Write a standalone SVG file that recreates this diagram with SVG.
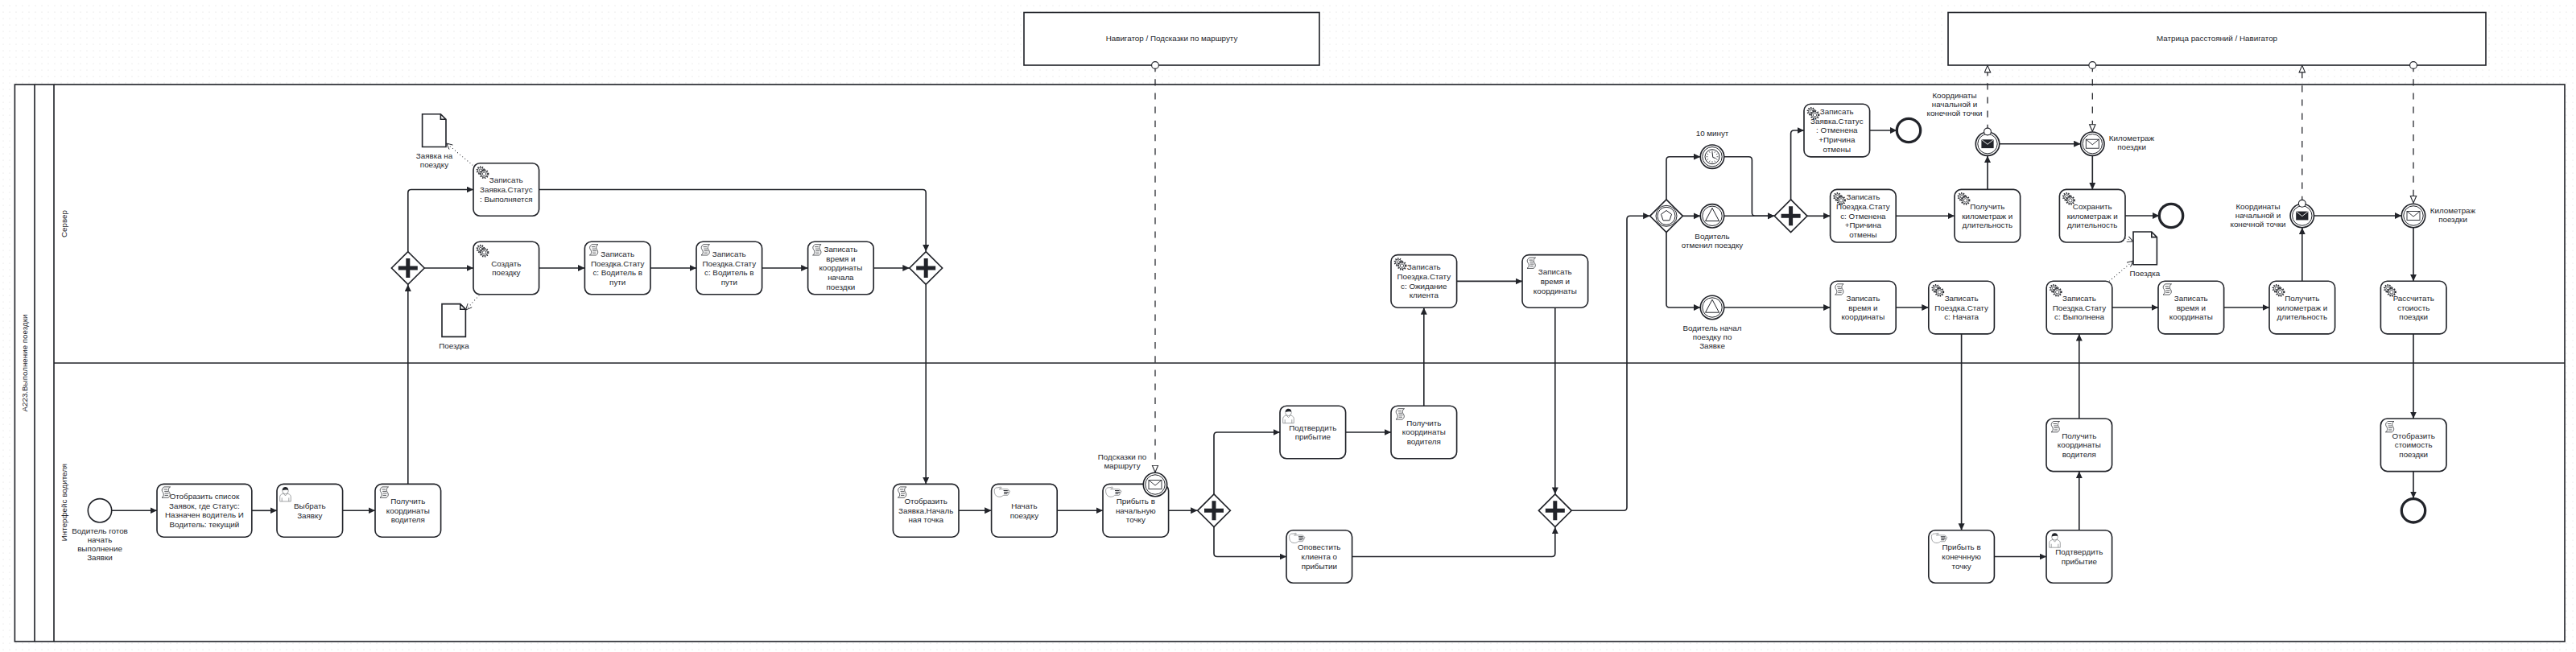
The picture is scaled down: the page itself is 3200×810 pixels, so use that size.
<svg xmlns="http://www.w3.org/2000/svg" xmlns:xlink="http://www.w3.org/1999/xlink" width="3200" height="810" viewBox="0 0 3200 810">
<style>
.t{font-family:"Liberation Sans",Arial,sans-serif;font-size:9.8px;fill:#22242a;text-anchor:middle}
.task{fill:#fff;stroke:#22242a;stroke-width:1.63}
.ln{fill:none;stroke:#22242a;stroke-width:1.63}
.pl{fill:#fff;stroke:#22242a;stroke-width:1.63}
.th{fill:#fff;stroke:#22242a;stroke-width:1}
.end{fill:#fff;stroke:#22242a;stroke-width:3.3}
.flow{fill:none;stroke:#22242a;stroke-width:1.63;marker-end:url(#arr)}
.msg{fill:none;stroke:#22242a;stroke-width:1.25;stroke-dasharray:8.2 9}
.msga{marker-end:url(#open)}
.asc{fill:none;stroke:#22242a;stroke-width:1.1;stroke-dasharray:0 4;stroke-linecap:round;marker-end:url(#openv)}
.dot{fill:#fff;stroke:#22242a;stroke-width:1.1}
.ic{fill:none;stroke:#22242a;stroke-width:.75}
.ig{fill:none;stroke:#7a7c80;stroke-width:.7}
</style>
<defs>
<pattern id="grid" width="8" height="8" patternUnits="userSpaceOnUse"><circle cx="4" cy="7" r=".6" fill="#d8d8d8"/></pattern>
<marker id="arr" markerUnits="userSpaceOnUse" markerWidth="10" markerHeight="10" refX="8.5" refY="4" orient="auto"><path d="M0,0L8.5,4L0,8Z" fill="#22242a"/></marker>
<marker id="open" markerUnits="userSpaceOnUse" markerWidth="12" markerHeight="12" refX="9.5" refY="4.5" orient="auto"><path d="M.6,.8L9.2,4.5L.6,8.2Z" fill="#fff" stroke="#22242a" stroke-width="1.1"/></marker>
<marker id="openv" markerUnits="userSpaceOnUse" markerWidth="12" markerHeight="12" refX="8" refY="4" orient="auto"><path d="M.5,.5L8,4L.5,7.5" fill="none" stroke="#22242a" stroke-width=".9"/></marker>
<g id="gear">
<g class="ic"><circle cx="6" cy="6" r="4.3" stroke-width="2.2" stroke-dasharray="1.2 1.5"/><circle cx="6" cy="6" r="3.6" fill="#fff"/><circle cx="6" cy="6" r="1.8"/></g>
<g class="ic"><circle cx="10.5" cy="10.5" r="4.8" stroke-width="2.2" stroke-dasharray="1.3 1.5"/><circle cx="10.5" cy="10.5" r="4" fill="#fff"/><circle cx="10.5" cy="10.5" r="2.2"/></g>
</g>
<g id="script" class="ic"><path d="M4,.5H11.5C8.8,2.2 8.8,5 10.2,7C11.8,9.2 11.8,12 9,13.8H1C3.8,12 3.8,9.2 2.2,7C.6,5 .8,2.2 4,.5Z"/><path d="M3.5,3.5H8M4.2,6H9M4.6,8.5H9.6M4.6,11H9"/></g>
<g id="user"><path class="ig" d="M.7,18.5V12.5C.7,10 4,9.2 5,8.5L7.5,11.5L10,8.5C11,9.2 14.3,10 14.3,12.5V18.5ZM3.2,18.5V14M11.8,18.5V14"/><circle class="ig" cx="7.5" cy="5.5" r="3.8"/><path d="M3.8,4.8C3.6,1.4 6,.5 7.6,.5C9.5,.5 11.3,1.6 11.2,4.6C9.5,4 6,4 3.8,4.8Z" fill="#22242a"/></g>
<g id="hand"><path class="ig" d="M.6,4.6C.6,2 3,1 5,1.4L8.5,.7C9.5,.5 9.6,2 8.6,2.3L6.6,3.2H16.5C18.5,3.2 18.5,5 16.5,5.1H19C20.2,5.1 20.2,7 19,7H18.2C19.4,7.2 19.4,9 18.2,9H17C18,9.2 18,11 16.8,11H11.5C9.5,13.4 5,13.2 3,11.6C1,10 .5,7 .6,4.6Z"/><path d="M12,5.1H17M12.5,7H18M12.5,9H16.5" fill="none" stroke="#22242a" stroke-width="1"/></g>
<path id="plus" d="M-2.5,-12H2.5V-2.5H12V2.5H2.5V12H-2.5V2.5H-12V-2.5H-2.5Z" fill="#22242a"/>
<path id="dia" d="M0,-20.4L20.4,0L0,20.4L-20.4,0Z" class="pl"/>
<g id="env-w"><rect x="-8" y="-5.5" width="16" height="11" fill="#fff" stroke="#22242a" stroke-width=".9"/><path d="M-8,-5.5L0,1L8,-5.5" fill="none" stroke="#22242a" stroke-width=".9"/></g>
<g id="env-b"><rect x="-7.6" y="-5.4" width="15.2" height="10.8" fill="#22242a"/><path d="M-7.6,-5.4L0,.6L7.6,-5.4" fill="none" stroke="#fff" stroke-width=".9"/></g>
<g id="ev2"><circle r="14.7" class="pl"/><circle r="12.2" class="th"/></g>
<path id="doc" d="M0,0H22.8L29.4,6.6V40.8H0Z M22.8,0V6.6H29.4" fill="#fff" stroke="#22242a" stroke-width="1.63"/>
</defs>
<rect width="3200" height="810" fill="#fff"/>
<rect width="3200" height="810" fill="url(#grid)"/>

<g id="pool">
<rect x="18.4" y="105" width="3167.6" height="692" class="pl"/>
<path class="ln" d="M43,105V797M67,105V797M67,451H3186"/>
<text class="t" transform="translate(33.6,451) rotate(-90)">А223.Выполнение поездки</text>
<text class="t" transform="translate(82.5,278) rotate(-90)">Сервер</text>
<text class="t" transform="translate(82.5,624) rotate(-90)">Интерфейс водителя</text>
</g>

<g id="ext-nav"><rect x="1272" y="15.5" width="367" height="65.5" class="pl"/><text class="t" x="1455.5" y="51.4">Навигатор / Подсказки по маршруту</text></g>
<g id="ext-matrix"><rect x="2420" y="15.5" width="668" height="65.5" class="pl"/><text class="t" x="2754" y="51.4">Матрица расстояний / Навигатор</text></g>

<g id="connectors">
<path class="flow" d="M139,634.3H195"/>
<path class="flow" d="M312.8,634.3H344"/>
<path class="flow" d="M425.6,634.3H466"/>
<path class="flow" d="M506.8,601.4V353.4"/>
<path class="flow" d="M506.8,312.6V239.3Q506.8,235.5 510.8,235.5H588"/>
<path class="flow" d="M527.2,333H588"/>
<path class="flow" d="M669.6,333H726.4"/>
<path class="flow" d="M808,333H865"/>
<path class="flow" d="M946.6,333H1003.6"/>
<path class="flow" d="M1085.2,333H1129.8"/>
<path class="flow" d="M669.6,235.5H1146.2Q1150.2,235.5 1150.2,239.5V312.6"/>
<path class="flow" d="M1150.2,353.4V601.4"/>
<path class="flow" d="M1191,634.3H1231.6"/>
<path class="flow" d="M1313.2,634.3H1370"/>
<path class="flow" d="M1451.6,634.3H1487.6"/>
<path class="flow" d="M1508,613.9V541Q1508,537 1512,537H1590"/>
<path class="flow" d="M1508,654.7V687.5Q1508,691.5 1512,691.5H1598"/>
<path class="flow" d="M1671.6,537H1728"/>
<path class="flow" d="M1768.8,504.2V382.2"/>
<path class="flow" d="M1809.6,349.4H1891"/>
<path class="flow" d="M1931.8,382.2V613.9"/>
<path class="flow" d="M1679.6,691.5H1927.8Q1931.8,691.5 1931.8,687.5V654.7"/>
<path class="flow" d="M1952.2,634.3H2017Q2021,634.3 2021,630.3V272.3Q2021,268.3 2025,268.3H2049.6"/>
<path class="flow" d="M2070,247.9V198.7Q2070,194.7 2074,194.7H2112.3"/>
<path class="flow" d="M2090.4,268.3H2112.3"/>
<path class="flow" d="M2070,288.7V378Q2070,382 2074,382H2112.3"/>
<path class="flow" d="M2141.7,194.7H2172.4Q2176.4,194.7 2176.4,198.7V264.3Q2176.4,268.3 2180.4,268.3H2204.2"/>
<path class="flow" d="M2141.7,268.3H2204.2"/>
<path class="flow" d="M2224.6,247.9V166Q2224.6,162 2228.6,162H2241"/>
<path class="flow" d="M2245,268.3H2273.6"/>
<path class="flow" d="M2322.6,162H2356.3"/>
<path class="flow" d="M2355.2,268.3H2428"/>
<path class="flow" d="M2469,235.4V193.4"/>
<path class="flow" d="M2483.7,178.7H2584.6"/>
<path class="flow" d="M2599.3,193.2V235.4"/>
<path class="flow" d="M2640,268H2682.3"/>
<path class="flow" d="M2141.7,382H2273.6"/>
<path class="flow" d="M2355.2,382H2395.8"/>
<path class="flow" d="M2436.6,415V658.7"/>
<path class="flow" d="M2477.4,691.5H2542"/>
<path class="flow" d="M2582.8,658.7V585.6"/>
<path class="flow" d="M2582.8,520V415"/>
<path class="flow" d="M2623.8,382H2681"/>
<path class="flow" d="M2762.6,382H2819"/>
<path class="flow" d="M2859.8,349.3V282.7"/>
<path class="flow" d="M2874.7,268H2983.3"/>
<path class="flow" d="M2998,282.7V349.3"/>
<path class="flow" d="M2998,415V520"/>
<path class="flow" d="M2998,585.6V619"/>
<path class="msg msga" d="M1435,81V587"/>
<path class="msg msga" d="M2469,163V81"/>
<path class="msg msga" d="M2599.3,81V163.6"/>
<path class="msg msga" d="M2859.8,252V81"/>
<path class="msg msga" d="M2998,81V252.4"/>
<path class="asc" d="M587,205L554.5,178"/>
<path class="asc" d="M595,367L578.6,385"/>
<path class="asc" d="M2640.4,296L2650,300"/>
<path class="asc" d="M2620.5,349L2650,324"/>
<circle class="dot" cx="1435" cy="81" r="4.4"/>
<circle class="dot" cx="2599.3" cy="81" r="4.4"/>
<circle class="dot" cx="2998" cy="81" r="4.4"/>
</g>

<g id="start"><circle cx="124" cy="634.3" r="14.7" class="pl"/><text class="t" y="663.4"><tspan x="124">Водитель готов</tspan><tspan x="124" dy="10.8">начать</tspan><tspan x="124" dy="10.8">выполнение</tspan><tspan x="124" dy="10.8">Заявки</tspan></text></g>

<g id="t-list" transform="translate(195,601.4)"><rect width="117.8" height="65.8" rx="8.2" class="task"/><use href="#script" x="5" y="3"/><text class="t" y="18.6"><tspan x="58.9">Отобразить список</tspan><tspan x="58.9" dy="11.75">Заявок, где Статус:</tspan><tspan x="58.9" dy="11.75">Назначен водитель И</tspan><tspan x="58.9" dy="11.75">Водитель: текущий</tspan></text></g>
<g id="t-select" transform="translate(344,601.4)"><rect width="81.6" height="65.8" rx="8.2" class="task"/><use href="#user" x="3" y="3"/><text class="t" y="30.4"><tspan x="40.8">Выбрать</tspan><tspan x="40.8" dy="11.75">Заявку</tspan></text></g>
<g id="t-coords1" transform="translate(466,601.4)"><rect width="81.6" height="65.8" rx="8.2" class="task"/><use href="#script" x="5" y="3"/><text class="t" y="24.5"><tspan x="40.8">Получить</tspan><tspan x="40.8" dy="11.75">координаты</tspan><tspan x="40.8" dy="11.75">водителя</tspan></text></g>

<g id="gw1" transform="translate(506.8,333)"><use href="#dia"/><use href="#plus"/></g>
<g id="t-zayavka" transform="translate(588,202.7)"><rect width="81.6" height="65.6" rx="8.2" class="task"/><use href="#gear" x="3" y="3"/><text class="t" y="24.5"><tspan x="40.8">Записать</tspan><tspan x="40.8" dy="11.75">Заявка.Статус</tspan><tspan x="40.8" dy="11.75">: Выполняется</tspan></text></g>
<g id="t-create" transform="translate(588,300.2)"><rect width="81.6" height="65.6" rx="8.2" class="task"/><use href="#gear" x="3" y="3"/><text class="t" y="30.4"><tspan x="40.8">Создать</tspan><tspan x="40.8" dy="11.75">поездку</tspan></text></g>
<g id="t-st1" transform="translate(726.4,300.2)"><rect width="81.6" height="65.6" rx="8.2" class="task"/><use href="#script" x="5" y="3"/><text class="t" y="18.6"><tspan x="40.8">Записать</tspan><tspan x="40.8" dy="11.75">Поездка.Стату</tspan><tspan x="40.8" dy="11.75">с: Водитель в</tspan><tspan x="40.8" dy="11.75">пути</tspan></text></g>
<g id="t-st2" transform="translate(865,300.2)"><rect width="81.6" height="65.6" rx="8.2" class="task"/><use href="#script" x="5" y="3"/><text class="t" y="18.6"><tspan x="40.8">Записать</tspan><tspan x="40.8" dy="11.75">Поездка.Стату</tspan><tspan x="40.8" dy="11.75">с: Водитель в</tspan><tspan x="40.8" dy="11.75">пути</tspan></text></g>
<g id="t-time1" transform="translate(1003.6,300.2)"><rect width="81.6" height="65.6" rx="8.2" class="task"/><use href="#script" x="5" y="3"/><text class="t" y="12.7"><tspan x="40.8">Записать</tspan><tspan x="40.8" dy="11.75">время и</tspan><tspan x="40.8" dy="11.75">координаты</tspan><tspan x="40.8" dy="11.75">начала</tspan><tspan x="40.8" dy="11.75">поездки</tspan></text></g>
<g id="gw2" transform="translate(1150.2,333)"><use href="#dia"/><use href="#plus"/></g>

<g id="d-zayavka"><use href="#doc" x="524.6" y="141.7"/><text class="t" y="196.5"><tspan x="539.5">Заявка на</tspan><tspan x="539.5" dy="11">поездку</tspan></text></g>
<g id="d-trip"><use href="#doc" x="549" y="377.6"/><text class="t" x="564" y="433.4">Поездка</text></g>

<g id="t-show" transform="translate(1109.4,601.4)"><rect width="81.6" height="65.8" rx="8.2" class="task"/><use href="#script" x="5" y="3"/><text class="t" y="24.5"><tspan x="40.8">Отобразить</tspan><tspan x="40.8" dy="11.75">Заявка.Началь</tspan><tspan x="40.8" dy="11.75">ная точка</tspan></text></g>
<g id="t-start" transform="translate(1231.6,601.4)"><rect width="81.6" height="65.8" rx="8.2" class="task"/><use href="#hand" x="3" y="3"/><text class="t" y="30.4"><tspan x="40.8">Начать</tspan><tspan x="40.8" dy="11.75">поездку</tspan></text></g>
<g id="t-arrive" transform="translate(1370,601.4)"><rect width="81.6" height="65.8" rx="8.2" class="task"/><use href="#hand" x="3" y="3"/><text class="t" y="24.5"><tspan x="40.8">Прибыть в</tspan><tspan x="40.8" dy="11.75">начальную</tspan><tspan x="40.8" dy="11.75">точку</tspan></text></g>
<g id="ev-hints"><use href="#ev2" x="1435" y="602"/><use href="#env-w" x="1435" y="602"/><text class="t" y="571.4"><tspan x="1394">Подсказки по</tspan><tspan x="1394" dy="11">маршруту</tspan></text></g>
<g id="gw3" transform="translate(1508,634.3)"><use href="#dia"/><use href="#plus"/></g>

<g id="t-confirm1" transform="translate(1590,504.2)"><rect width="81.6" height="65.6" rx="8.2" class="task"/><use href="#user" x="3" y="3"/><text class="t" y="30.4"><tspan x="40.8">Подтвердить</tspan><tspan x="40.8" dy="11.75">прибытие</tspan></text></g>
<g id="t-coords2" transform="translate(1728,504.2)"><rect width="81.6" height="65.6" rx="8.2" class="task"/><use href="#script" x="5" y="3"/><text class="t" y="24.5"><tspan x="40.8">Получить</tspan><tspan x="40.8" dy="11.75">координаты</tspan><tspan x="40.8" dy="11.75">водителя</tspan></text></g>
<g id="t-notify" transform="translate(1598,658.7)"><rect width="81.6" height="65.6" rx="8.2" class="task"/><use href="#hand" x="3" y="3"/><text class="t" y="24.5"><tspan x="40.8">Оповестить</tspan><tspan x="40.8" dy="11.75">клиента о</tspan><tspan x="40.8" dy="11.75">прибытии</tspan></text></g>
<g id="t-wait" transform="translate(1728,316.6)"><rect width="81.6" height="65.6" rx="8.2" class="task"/><use href="#gear" x="3" y="3"/><text class="t" y="18.6"><tspan x="40.8">Записать</tspan><tspan x="40.8" dy="11.75">Поездка.Стату</tspan><tspan x="40.8" dy="11.75">с: Ожидание</tspan><tspan x="40.8" dy="11.75">клиента</tspan></text></g>
<g id="t-time2" transform="translate(1891,316.6)"><rect width="81.6" height="65.6" rx="8.2" class="task"/><use href="#script" x="5" y="3"/><text class="t" y="24.5"><tspan x="40.8">Записать</tspan><tspan x="40.8" dy="11.75">время и</tspan><tspan x="40.8" dy="11.75">координаты</tspan></text></g>
<g id="gw4" transform="translate(1931.8,634.3)"><use href="#dia"/><use href="#plus"/></g>

<g id="gw-event" transform="translate(2070,268.3)"><use href="#dia"/><circle r="13" class="th"/><circle r="11" class="th"/><path d="M0,-6.8L6.5,-2.1L4,5.5H-4L-6.5,-2.1Z" fill="#fff" stroke="#22242a" stroke-width="1"/></g>
<g id="ev-timer"><use href="#ev2" x="2127" y="194.7"/><g transform="translate(2127,194.7)"><circle r="9" class="th"/><path d="M0,-7.5V-5.5M0,7.5V5.5M-7.5,0H-5.5M7.5,0H5.5M-3.7,-6.5L-2.8,-4.9M3.7,-6.5L2.8,-4.9M-3.7,6.5L-2.8,4.9M3.7,6.5L2.8,4.9M-6.5,-3.7L-4.9,-2.8M6.5,-3.7L4.9,-2.8M-6.5,3.7L-4.9,2.8M6.5,3.7L4.9,2.8" stroke="#22242a" stroke-width=".7" fill="none"/><path d="M0,-5.5L.8,0.8L4.5,2" fill="none" stroke="#22242a" stroke-width="1"/></g><text class="t" x="2127" y="169.4">10 минут</text></g>
<g id="ev-cancel"><use href="#ev2" x="2127" y="268.3"/><path d="M2127,258.5L2135.5,274.5H2118.5Z" fill="#fff" stroke="#22242a" stroke-width="1"/><text class="t" y="297.4"><tspan x="2127">Водитель</tspan><tspan x="2127" dy="10.8">отменил поездку</tspan></text></g>
<g id="ev-begin"><use href="#ev2" x="2127" y="382"/><path d="M2127,372.2L2135.5,388.2H2118.5Z" fill="#fff" stroke="#22242a" stroke-width="1"/><text class="t" y="411.4"><tspan x="2127">Водитель начал</tspan><tspan x="2127" dy="10.8">поездку по</tspan><tspan x="2127" dy="10.8">Заявке</tspan></text></g>
<g id="gw5" transform="translate(2224.6,268.3)"><use href="#dia"/><use href="#plus"/></g>
<g id="t-z-cancel" transform="translate(2241,129.3)"><rect width="81.6" height="65.6" rx="8.2" class="task"/><use href="#gear" x="3" y="3"/><text class="t" y="12.7"><tspan x="40.8">Записать</tspan><tspan x="40.8" dy="11.75">Заявка.Статус</tspan><tspan x="40.8" dy="11.75">: Отменена</tspan><tspan x="40.8" dy="11.75">+Причина</tspan><tspan x="40.8" dy="11.75">отмены</tspan></text></g>
<g id="end1"><circle cx="2371" cy="162" r="14.7" class="end"/></g>
<g id="t-p-cancel" transform="translate(2273.6,235.4)"><rect width="81.6" height="65.6" rx="8.2" class="task"/><use href="#gear" x="3" y="3"/><text class="t" y="12.7"><tspan x="40.8">Записать</tspan><tspan x="40.8" dy="11.75">Поездка.Стату</tspan><tspan x="40.8" dy="11.75">с: Отменена</tspan><tspan x="40.8" dy="11.75">+Причина</tspan><tspan x="40.8" dy="11.75">отмены</tspan></text></g>
<g id="t-km1" transform="translate(2428,235.4)"><rect width="81.6" height="65.6" rx="8.2" class="task"/><use href="#gear" x="3" y="3"/><text class="t" y="24.5"><tspan x="40.8">Получить</tspan><tspan x="40.8" dy="11.75">километраж и</tspan><tspan x="40.8" dy="11.75">длительность</tspan></text></g>
<g id="ev-send1"><use href="#ev2" x="2469" y="178.7"/><use href="#env-b" x="2469" y="178.7"/><circle class="dot" cx="2469" cy="163.5" r="4.4"/><text class="t" y="122.4"><tspan x="2428">Координаты</tspan><tspan x="2428" dy="10.8">начальной и</tspan><tspan x="2428" dy="10.8">конечной точки</tspan></text></g>
<g id="ev-recv1"><use href="#ev2" x="2599.3" y="178.7"/><use href="#env-w" x="2599.3" y="178.7"/><text class="t" y="175.4"><tspan x="2648">Километраж</tspan><tspan x="2648" dy="11">поездки</tspan></text></g>
<g id="t-save" transform="translate(2558.4,235.4)"><rect width="81.6" height="65.6" rx="8.2" class="task"/><use href="#gear" x="3" y="3"/><text class="t" y="24.5"><tspan x="40.8">Сохранить</tspan><tspan x="40.8" dy="11.75">километраж и</tspan><tspan x="40.8" dy="11.75">длительность</tspan></text></g>
<g id="end2"><circle cx="2697" cy="268" r="14.7" class="end"/></g>
<g id="d-trip2"><use href="#doc" x="2650" y="288"/><text class="t" x="2664.4" y="343.4">Поездка</text></g>

<g id="t-time3" transform="translate(2273.6,349.3)"><rect width="81.6" height="65.6" rx="8.2" class="task"/><use href="#script" x="5" y="3"/><text class="t" y="24.5"><tspan x="40.8">Записать</tspan><tspan x="40.8" dy="11.75">время и</tspan><tspan x="40.8" dy="11.75">координаты</tspan></text></g>
<g id="t-started" transform="translate(2395.8,349.3)"><rect width="81.6" height="65.6" rx="8.2" class="task"/><use href="#gear" x="3" y="3"/><text class="t" y="24.5"><tspan x="40.8">Записать</tspan><tspan x="40.8" dy="11.75">Поездка.Стату</tspan><tspan x="40.8" dy="11.75">с: Начата</tspan></text></g>
<g id="t-done" transform="translate(2542.2,349.3)"><rect width="81.6" height="65.6" rx="8.2" class="task"/><use href="#gear" x="3" y="3"/><text class="t" y="24.5"><tspan x="40.8">Записать</tspan><tspan x="40.8" dy="11.75">Поездка.Стату</tspan><tspan x="40.8" dy="11.75">с: Выполнена</tspan></text></g>
<g id="t-time4" transform="translate(2681,349.3)"><rect width="81.6" height="65.6" rx="8.2" class="task"/><use href="#script" x="5" y="3"/><text class="t" y="24.5"><tspan x="40.8">Записать</tspan><tspan x="40.8" dy="11.75">время и</tspan><tspan x="40.8" dy="11.75">координаты</tspan></text></g>
<g id="t-km2" transform="translate(2819,349.3)"><rect width="81.6" height="65.6" rx="8.2" class="task"/><use href="#gear" x="3" y="3"/><text class="t" y="24.5"><tspan x="40.8">Получить</tspan><tspan x="40.8" dy="11.75">километраж и</tspan><tspan x="40.8" dy="11.75">длительность</tspan></text></g>
<g id="ev-send2"><use href="#ev2" x="2859.8" y="268"/><use href="#env-b" x="2859.8" y="268"/><circle class="dot" cx="2859.8" cy="252.8" r="4.4"/><text class="t" y="260.4"><tspan x="2805">Координаты</tspan><tspan x="2805" dy="10.8">начальной и</tspan><tspan x="2805" dy="10.8">конечной точки</tspan></text></g>
<g id="ev-recv2"><use href="#ev2" x="2998" y="268"/><use href="#env-w" x="2998" y="268"/><text class="t" y="265.4"><tspan x="3047">Километраж</tspan><tspan x="3047" dy="11">поездки</tspan></text></g>
<g id="t-cost" transform="translate(2957.4,349.3)"><rect width="81.6" height="65.6" rx="8.2" class="task"/><use href="#gear" x="3" y="3"/><text class="t" y="24.5"><tspan x="40.8">Рассчитать</tspan><tspan x="40.8" dy="11.75">стоиость</tspan><tspan x="40.8" dy="11.75">поездки</tspan></text></g>

<g id="t-arrive2" transform="translate(2395.8,658.7)"><rect width="81.6" height="65.6" rx="8.2" class="task"/><use href="#hand" x="3" y="3"/><text class="t" y="24.5"><tspan x="40.8">Прибыть в</tspan><tspan x="40.8" dy="11.75">конечнную</tspan><tspan x="40.8" dy="11.75">точку</tspan></text></g>
<g id="t-confirm2" transform="translate(2542,658.7)"><rect width="81.6" height="65.6" rx="8.2" class="task"/><use href="#user" x="3" y="3"/><text class="t" y="30.4"><tspan x="40.8">Подтвердить</tspan><tspan x="40.8" dy="11.75">прибытие</tspan></text></g>
<g id="t-coords3" transform="translate(2542,520)"><rect width="81.6" height="65.6" rx="8.2" class="task"/><use href="#script" x="5" y="3"/><text class="t" y="24.5"><tspan x="40.8">Получить</tspan><tspan x="40.8" dy="11.75">координаты</tspan><tspan x="40.8" dy="11.75">водителя</tspan></text></g>
<g id="t-showcost" transform="translate(2957.4,520)"><rect width="81.6" height="65.6" rx="8.2" class="task"/><use href="#script" x="5" y="3"/><text class="t" y="24.5"><tspan x="40.8">Отобразить</tspan><tspan x="40.8" dy="11.75">стоимость</tspan><tspan x="40.8" dy="11.75">поездки</tspan></text></g>
<g id="end3"><circle cx="2998" cy="634.3" r="14.7" class="end"/></g>
</svg>
